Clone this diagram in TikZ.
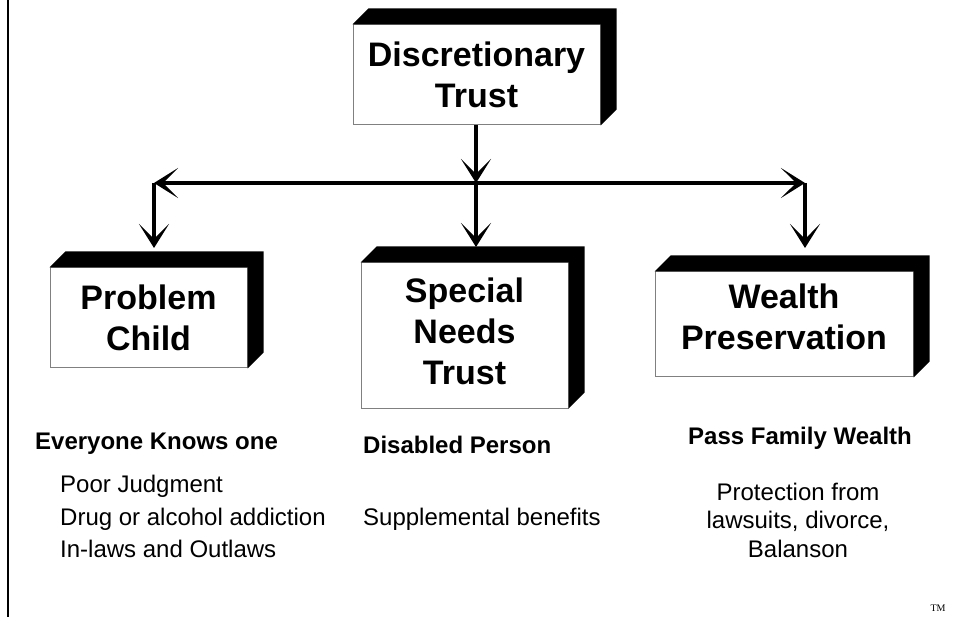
\documentclass[tikz,border=0pt]{standalone}
\usepackage{fontspec}
\setmainfont{Liberation Sans}
\newfontfamily\tmfont{Liberation Serif}
\usetikzlibrary{arrows.meta}
\usetikzlibrary{calc}

\begin{document}
\begin{tikzpicture}[x=1pt,y=-1pt]
  \tikzset{
    >={Stealth[length=24pt,width=30pt,inset=15pt]},
    box/.style={rectangle, draw=gray, line width=1pt, fill=white, inner sep=0pt,
      align=center, font=\fontsize{34}{41}\selectfont\bfseries},
    branch/.style={->, line width=4.5pt},
    heading/.style={inner sep=0pt, font=\fontsize{24}{28}\selectfont\bfseries},
    item/.style={inner sep=0pt, font=\fontsize{24}{28}\selectfont},
  }
  \useasboundingbox (0,0) rectangle (953,617);
  \draw[line width=1.5pt] (8,0) -- (8,617);

  \node[box, minimum width=247pt, minimum height=100pt] (trust) at (476.5,75) {Discretionary\\Trust};
  \node[box, minimum width=197pt, minimum height=100pt] (child) at (148.5,318) {Problem\\Child};
  \node[box, minimum width=207pt, minimum height=145pt, text depth=8pt] (needs) at (464.5,335.5) {Special\\Needs\\Trust};
  \node[box, minimum width=258pt, minimum height=105pt, text depth=16pt] (wealth) at (784,324.5) {Wealth\\Preservation};

  % black top and side of each block
  \foreach \b in {trust,child,needs,wealth}
    \fill (\b.north west) -- ++(16,-16) -- ($(\b.north east)+(16,-16)$)
      -- ($(\b.south east)+(16,-16)$) -- (\b.south east) -- (\b.north east) -- cycle;

  \coordinate (split) at (476,183);
  \coordinate (lsplit) at (154,183);
  \coordinate (rsplit) at (805,183);
  \coordinate (childtop) at (154,248);
  \coordinate (needstop) at (476,247);
  \coordinate (wealthtop) at (805,248);

  \draw[branch] (trust.south -| split) -- (split);
  \draw[branch, <->] (lsplit) -- (rsplit);
  \draw[branch] (lsplit) -- (childtop);
  \draw[branch] (split) -- (needstop);
  \draw[branch] (rsplit) -- (wealthtop);

  \node[heading, anchor=base west] (knows) at (35,449) {Everyone Knows one};
  \node[item, anchor=base west] (judgment) at (60,492) {Poor Judgment};
  \node[item, anchor=base west] (addiction) at (60,525) {Drug or alcohol addiction};
  \node[item, anchor=base west] (outlaws) at (60,557) {In-laws and Outlaws};

  \node[heading, anchor=base west] (disabled) at (363,453) {Disabled Person};
  \node[item, anchor=base west] (benefits) at (363,525) {Supplemental benefits};

  \node[heading, anchor=base] (passwealth) at (800,444) {Pass Family Wealth};
  \node[item, anchor=base] (protection) at (798,500) {Protection from};
  \node[item, anchor=base] (lawsuits) at (798,528.5) {lawsuits, divorce,};
  \node[item, anchor=base] (balanson) at (798,557) {Balanson};

  \node[inner sep=0pt, anchor=base, font=\tmfont\fontsize{10}{12}\selectfont] (tm) at (938,611) {TM};
\end{tikzpicture}
\end{document}
